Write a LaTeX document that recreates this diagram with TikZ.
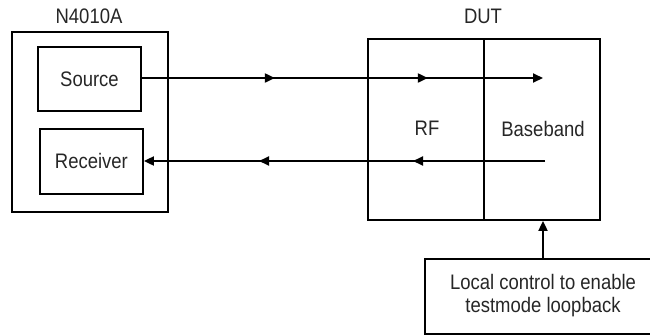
\documentclass[tikz,border=0pt]{standalone}
\usepackage{fontspec}
\setmainfont[FakeStretch=0.88]{Liberation Sans}
\usetikzlibrary{arrows.meta,decorations.markings}
\tikzset{
  box/.style={draw, line width=1.9pt, inner sep=0pt, anchor=north west},
  lbl/.style={font=\fontsize{21}{23}\selectfont, inner sep=0pt, text=black!85},
  mytip/.tip={Triangle[length=10pt,width=9pt]},
  sig/.style={line width=1.9pt, postaction={decorate}},
}
\begin{document}
\begin{tikzpicture}[x=1pt,y=-1pt]
\useasboundingbox (0,0) rectangle (650,335);
% N4010A
\node[box, minimum width=156pt, minimum height=180pt] (inst) at (11,31) {};
\node[lbl] (instl) at (89,16) {N4010A};
\node[box, minimum width=103pt, minimum height=64pt] (src) at (37,46) {};
\node[lbl] at (src.center) {Source};
\node[box, minimum width=103pt, minimum height=65pt] (rcv) at (39,128) {};
\node[lbl] at (rcv.center) {Receiver};
% DUT
\node[lbl] (dutl) at (483,16) {DUT};
\node[box, minimum width=116pt, minimum height=181pt] (rf) at (367,38) {};
\node[box, minimum width=116pt, minimum height=181pt] (bb) at (483,38) {};
\node[lbl] at (427,128.5) {RF};
\node[lbl] at (543,128.5) {Baseband};
\coordinate (txend) at (543,78);
\coordinate (rxstart) at (545,161);
% control
\node[box, minimum width=238pt, minimum height=75pt] (ctl) at (424,258) {};
\node[lbl, align=center] at (543,296) {Local control to enable\\testmode loopback};
% connectors
\draw[sig, -{mytip}, decoration={markings,
   mark=at position 133pt with {\arrow{mytip}},
   mark=at position 286pt with {\arrow{mytip}}}]
  (src.east |- txend) -- (txend);
\draw[sig, -{mytip}, decoration={markings,
   mark=at position 132pt with {\arrow{mytip}},
   mark=at position 286pt with {\arrow{mytip}}}]
  (rxstart) -- (rcv.east |- rxstart);
\draw[line width=1.9pt, -{mytip}] (ctl.north -| txend) -- (bb.south -| txend);
\end{tikzpicture}
\end{document}
